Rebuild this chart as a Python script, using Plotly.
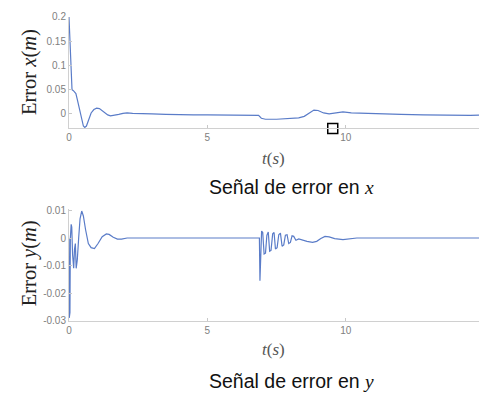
import plotly.graph_objects as go

# ---- data ----
t_x = [0, 0.03, 0.07, 0.11, 0.16, 0.21, 0.25, 0.3, 0.38, 0.46, 0.52, 0.57, 0.63, 0.7, 0.8, 0.9, 1.0, 1.1,
       1.25, 1.4, 1.5, 1.65, 1.8, 1.95, 2.1, 2.3, 2.6, 3.0, 3.5, 4.0, 4.5, 5.0, 5.5, 6.0, 6.5, 6.85,
       6.95, 7.1, 7.5, 8.0, 8.3, 8.5, 8.7, 8.85, 9.0, 9.2, 9.4, 9.6, 9.9, 10.2, 10.6, 11.2, 12.0,
       12.8, 13.5, 14.0, 14.5, 15.0]
e_x = [0.2, 0.15, 0.075, 0.05, 0.048, 0.045, 0.042, 0.03, 0.008, -0.016, -0.025, -0.028, -0.025,
       -0.014, 0.002, 0.009, 0.012, 0.011, 0.004, -0.002, -0.004, -0.003, -0.001, 0.001, 0.002,
       0.001, 0.0, 0.0, -0.001, -0.002, -0.002, -0.002, -0.002, -0.002, -0.002, -0.003, -0.009,
       -0.011, -0.011, -0.010, -0.008, -0.005, 0.002, 0.008, 0.007, 0.002, 0.000, 0.002, 0.004,
       0.002, 0.001, 0.0, -0.001, -0.002, -0.003, -0.003, -0.003, -0.002]

t_y = [0, 0.01, 0.025, 0.035, 0.05, 0.08, 0.1, 0.13, 0.17, 0.2, 0.23, 0.26, 0.3, 0.35, 0.4, 0.46,
       0.52, 0.6, 0.7, 0.8, 0.92, 1.05, 1.2, 1.35, 1.45, 1.6, 1.75, 1.9, 2.1, 2.5, 4.0, 6.0, 6.88,
       6.9, 6.93, 6.96, 7.0, 7.05, 7.1, 7.15, 7.2, 7.25, 7.3, 7.36, 7.41, 7.46, 7.52, 7.58, 7.64,
       7.7, 7.76, 7.82, 7.88, 7.94, 8.0, 8.06, 8.12, 8.2, 8.3, 8.45, 8.6, 8.8, 8.95, 9.1, 9.25,
       9.4, 9.6, 9.9, 10.1, 10.4, 12.0, 15.0]
e_y = [0.0, -0.029, -0.005, -0.027, 0.0, 0.005, 0.004, -0.006, -0.011, -0.004, -0.002, -0.011,
       -0.008, 0.0, 0.007, 0.0098, 0.008, 0.003, -0.002, -0.0035, -0.0038, -0.002, 0.0005, 0.0015,
       0.0013, 0.0003, -0.0004, -0.0004, 0.0, 0.0, 0.0, 0.0, 0.0,
       -0.0155, 0.0, 0.0025, 0.002, -0.0058, -0.0055, 0.001, 0.0022, -0.0048, -0.0045, 0.0015,
       0.002, -0.004, -0.0035, 0.0012, 0.0018, -0.003, -0.0025, 0.001, 0.0012, -0.002, -0.0016,
       0.0008, 0.0006, -0.0008, -0.0003, -0.0008, -0.0012, -0.0016, -0.0012, -0.0002, 0.0006,
       0.0004, -0.0002, -0.0006, -0.0003, 0.0, 0.0, 0.0]

x_ticks = [0, 5, 10, 15]
yx_ticks = [0, 0.05, 0.1, 0.15, 0.2]
yx_labels = ["0", "0.05", "0.1", "0.15", "0.2"]
yy_ticks = [-0.03, -0.02, -0.01, 0, 0.01]
yy_labels = ["-0.03", "-0.02", "-0.01", "0", "0.01"]

box_t = [9.53]
box_v = [-0.0299]

LINE = "#5a7cc8"
W, H = 479, 396

# the photographed page comes out slightly scaled/offset; map target pixels to figure pixels
O, S = 3.0, 0.979
def fx(px):
    return (px - O) / S / W
def fy(py):
    return 1 - (py - O) / S / H

x_left = fx(68)
x_right_full = fx(477)
x_max = 15 * (1 - x_left) / (x_right_full - x_left) if x_right_full > 1 else 15
xd = [x_left, min(1.0, x_right_full)]

fig = go.Figure()
fig.add_trace(go.Scatter(x=t_x, y=e_x, mode="lines", line=dict(color=LINE, width=1.2),
                         xaxis="x", yaxis="y", showlegend=False))
fig.add_trace(go.Scatter(x=box_t, y=box_v, mode="markers", cliponaxis=False,
                         marker=dict(symbol="square-open", size=10, color="black", line=dict(width=1.5)),
                         xaxis="x", yaxis="y", showlegend=False))
fig.add_trace(go.Scatter(x=t_y, y=e_y, mode="lines", line=dict(color=LINE, width=1.2),
                         xaxis="x2", yaxis="y2", showlegend=False))

axis_common = dict(showgrid=False, zeroline=False, showline=True, linecolor="#d0d0d0", linewidth=1,
                   ticks="inside", ticklen=3, tickcolor="#c8c8c8", ticklabeloverflow="allow",
                   tickfont=dict(family="Liberation Sans, Arial", size=10, color="#808080"))

fig.update_layout(
    width=W, height=H, margin=dict(l=0, r=0, t=0, b=0),
    paper_bgcolor="white", plot_bgcolor="white",
    xaxis=dict(domain=xd, range=[0, x_max], tickvals=x_ticks, anchor="y", **axis_common),
    yaxis=dict(domain=[fy(127), fy(15)], range=[-0.03, 0.2], tickvals=yx_ticks,
               ticktext=yx_labels, anchor="x", **axis_common),
    xaxis2=dict(domain=xd, range=[0, x_max], tickvals=x_ticks, anchor="y2", **axis_common),
    yaxis2=dict(domain=[fy(320), fy(208)], range=[-0.03, 0.0105], tickvals=yy_ticks,
                ticktext=yy_labels, anchor="x2", **axis_common),
)

serif = "Liberation Serif, Times New Roman, serif"
sans = "Liberation Sans, Arial, sans-serif"
ann = []
for yc, var in [(70, "x"), (262, "y")]:
    ann.append(dict(text="Error <i>%s</i>(<i>m</i>)" % var, x=fx(29), y=fy(yc), xref="paper",
                    yref="paper", textangle=-90, showarrow=False, xanchor="center", yanchor="middle",
                    font=dict(family=serif, size=20.5, color="#222")))
for yc in [157, 349]:
    ann.append(dict(text="<i>t</i>(<i>s</i>)", x=fx(269), y=fy(yc), xref="paper", yref="paper",
                    showarrow=False, xanchor="center", yanchor="middle",
                    font=dict(family=serif, size=17, color="#555")))
for yc, var in [(186, "x"), (381, "y")]:
    ann.append(dict(text="Señal de error en <span style='font-family:Liberation Serif'><i>%s</i></span>" % var,
                    x=fx(287), y=fy(yc), xref="paper", yref="paper", showarrow=False,
                    xanchor="center", yanchor="middle",
                    font=dict(family=sans, size=19.5, color="#111")))
fig.update_layout(annotations=ann)

fig.write_html("out.html", config={"displayModeBar": False, "responsive": False},
               post_script="document.body.style.margin='0px';document.documentElement.style.overflow='hidden';document.body.style.overflow='hidden';")
